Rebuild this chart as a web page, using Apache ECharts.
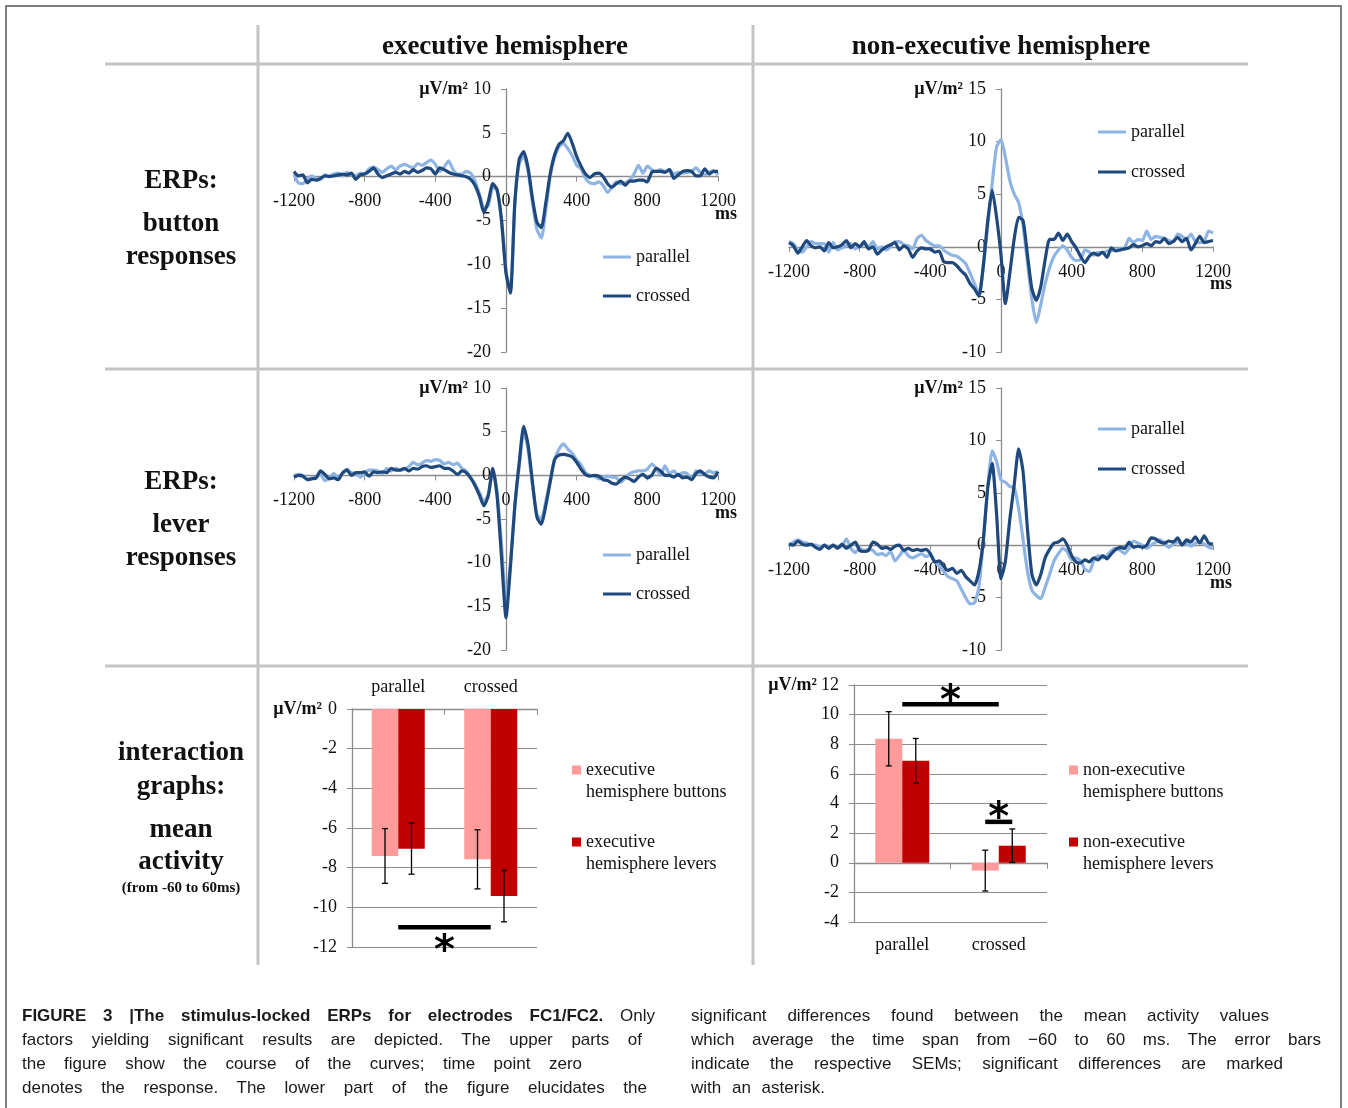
<!DOCTYPE html>
<html>
<head>
<meta charset="utf-8">
<script src="https://cdn.jsdelivr.net/npm/echarts@6/dist/echarts.min.js"></script>
<style>
html,body{margin:0;padding:0;background:#fff;}
#chart{position:absolute;left:0;top:0;width:1348px;height:1108px;}
.cap{position:absolute;font-family:'Liberation Sans',Arial,sans-serif;font-size:17px;color:#1a1a1a;line-height:24px;white-space:nowrap;}
.j{white-space:normal;text-align:justify;text-align-last:justify;}
</style>
</head>
<body>
<div id="chart"></div>
<div class="cap j" style="left:22px;top:1004px;width:633px"><b>FIGURE 3 |The stimulus-locked ERPs for electrodes FC1/FC2.</b> Only</div>
<div class="cap j" style="left:22px;top:1028px;width:620px">factors yielding significant results are depicted. The upper parts of</div>
<div class="cap j" style="left:22px;top:1052px;width:560px">the figure show the course of the curves; time point zero</div>
<div class="cap j" style="left:22px;top:1076px;width:625px">denotes the response. The lower part of the figure elucidates the</div>
<div class="cap j" style="left:691px;top:1004px;width:578px">significant differences found between the mean activity values</div>
<div class="cap j" style="left:691px;top:1028px;width:630px">which average the time span from &minus;60 to 60 ms. The error bars</div>
<div class="cap j" style="left:691px;top:1052px;width:592px">indicate the respective SEMs; significant differences are marked</div>
<div class="cap" style="left:691px;top:1076px;word-spacing:6px">with an asterisk.</div>
<script>
// ---------- DATA ----------
const timeMs = [
-1200,-1175,-1150,-1125,-1100,-1075,-1050,-1025,
-1000,-975,-950,-925,-900,-875,-850,-825,
-800,-775,-750,-725,-700,-675,-650,-625,
-600,-575,-550,-525,-500,-475,-450,-425,
-400,-375,-350,-325,-300,-275,-250,-225,
-200,-175,-150,-125,-100,-75,-50,-25,
0,25,50,75,100,125,150,175,
200,225,250,275,300,325,350,375,
400,425,450,475,500,525,550,575,
600,625,650,675,700,725,750,775,
800,825,850,875,900,925,950,975,
1000,1025,1050,1075,1100,1125,1150,1175,
1200];

const execButtonParallel = [
0.3,-0.7,-0.8,-0.3,0.1,-0.2,-0.3,0.2,
0.1,0.3,0.4,0.1,0.5,0.2,0.1,0.4,
0.3,0.9,1.1,0.8,0.5,0.9,1.2,0.8,
1.2,1.4,1.2,1.0,1.5,1.3,1.6,1.9,
1.4,0.6,1.1,1.8,0.8,0.3,0.3,0.6,
0.4,-0.5,-2.0,-3.6,-3.3,-1.2,-1.6,-5.2,
-10.8,-12.8,-3.0,1.5,2.3,0.6,-3.0,-6.0,
-7.0,-3.8,0.0,2.2,3.4,3.8,3.2,2.4,
1.3,0.9,-0.2,-0.7,-0.8,-0.6,-1.0,-1.8,
-1.2,-0.6,-0.8,-0.7,-0.4,0.3,1.3,0.4,
1.2,0.8,0.6,0.8,0.6,0.8,0.3,0.5,
0.4,0.5,0.6,1.0,0.5,0.2,0.5,0.7,
0.2];
const execButtonCrossed = [
0.6,0.1,0.2,-0.7,-0.3,-0.4,-0.2,0.1,
0.0,0.1,0.2,0.3,0.2,0.4,-0.3,0.2,
0.3,0.6,1.0,0.3,-0.1,0.1,0.3,0.5,
0.3,0.6,0.4,0.8,0.5,0.7,1.0,0.9,
0.3,1.0,0.8,0.5,0.3,0.2,0.1,0.0,
-0.3,-1.0,-2.3,-4.1,-2.8,-0.8,-1.5,-5.0,
-11.0,-13.3,-3.0,2.0,2.85,1.0,-2.5,-5.2,
-5.8,-3.0,0.3,2.5,3.7,4.1,4.95,3.8,
2.3,1.2,0.3,-0.1,0.3,0.4,0.0,-0.8,
-1.2,-0.8,-0.5,-1.0,-0.5,-0.5,-0.4,-0.4,
-0.6,0.5,0.6,0.6,0.5,0.8,-0.2,0.2,
0.6,0.7,0.6,0.1,0.1,0.9,0.3,0.6,
0.6];
const nonExecButtonParallel = [
0.5,0.3,-0.3,-0.5,0.0,0.5,0.3,0.3,
0.3,-0.5,0.4,-0.3,-0.1,0.1,0.3,-0.2,
0.0,0.2,0.0,0.5,-0.2,0.0,-0.3,0.0,
0.5,0.5,0.2,0.1,-0.2,0.8,1.1,0.6,
0.3,0.1,0.1,-0.3,-0.6,-0.8,-0.9,-1.2,
-1.6,-2.5,-3.5,-4.5,-1.8,2.0,6.0,9.5,
10.2,8.5,6.3,5.0,4.2,2.0,-1.5,-5.0,
-7.2,-5.5,-3.5,-2.0,-0.9,-0.3,0.1,-0.3,
-1.0,-1.3,-1.2,-0.3,-0.5,-0.8,-0.5,-0.6,
-0.4,-0.4,-0.3,-0.2,-0.1,0.8,0.4,0.7,
0.6,1.5,0.7,1.0,0.9,0.8,0.6,0.5,
1.2,1.0,0.7,1.2,0.5,0.4,0.5,1.5,
1.3];
const nonExecButtonCrossed = [
0.4,0.1,-0.6,0.0,0.6,0.1,-0.1,0.0,
-0.4,0.4,-0.1,0.0,0.2,0.6,-0.1,0.3,
0.0,0.5,-0.2,0.0,-0.7,-0.3,0.0,0.2,
0.4,-0.3,0.1,-0.2,-1.0,-0.4,-0.1,-0.2,
-0.2,-0.5,-0.4,-1.4,-1.5,-1.5,-1.8,-2.3,
-2.7,-3.5,-4.0,-4.7,-1.8,2.5,5.4,2.8,
-0.8,-5.4,-2.5,0.8,2.8,2.5,-0.8,-4.0,
-5.1,-3.8,-1.2,0.7,0.7,1.3,0.6,1.2,
0.5,-0.1,-0.9,-1.5,-0.9,-0.6,-0.8,-0.5,
-1.0,-0.1,-0.4,-0.3,-0.2,-0.1,0.2,0.0,
0.1,0.3,0.1,0.5,0.4,0.8,0.3,0.5,
0.9,0.5,0.8,-0.3,0.3,1.0,0.4,0.5,
0.6];
const execLeverParallel = [
0.0,0.1,0.0,-0.4,-0.3,-0.2,0.1,-0.6,
-0.3,0.2,-0.2,0.2,0.7,0.3,0.2,-0.2,
0.3,0.6,0.6,0.5,0.2,0.8,0.5,0.8,
0.6,0.7,1.0,1.5,1.2,1.4,1.7,1.6,
1.8,1.7,1.3,1.5,1.2,1.4,0.8,0.5,
-0.3,-1.0,-2.0,-3.0,-2.2,0.7,-2.0,-8.0,
-14.5,-10.0,-3.5,1.0,5.0,3.0,-1.2,-4.5,
-5.0,-3.0,-0.5,1.8,3.0,3.6,3.0,2.5,
1.8,1.2,0.3,0.0,-0.1,-0.4,-0.2,-0.1,
-0.2,-0.3,-0.8,-0.3,0.2,0.4,0.5,0.5,
0.7,1.3,0.8,0.0,1.1,0.2,0.5,0.0,
0.3,0.2,-0.5,0.5,0.2,0.2,0.5,0.3,
0.4];
const execLeverCrossed = [
-0.2,0.0,-0.1,-0.5,-0.4,-0.3,0.5,0.1,
-0.4,-0.3,-0.5,0.3,0.6,0.0,0.3,0.3,
0.4,-0.1,0.4,0.3,0.4,0.3,0.8,0.6,
0.6,0.8,0.5,0.8,0.7,1.0,1.1,0.9,
1.0,1.1,0.8,0.8,0.5,0.1,0.5,0.3,
-0.3,-1.2,-2.3,-3.5,-2.3,0.8,-2.5,-9.5,
-16.3,-10.5,-3.5,1.5,5.6,3.5,-0.8,-4.8,
-5.6,-3.5,-0.8,1.8,2.3,2.4,2.3,2.1,
1.5,0.7,0.1,-0.1,0.0,-0.1,-0.5,-0.6,
-0.9,-1.0,-0.5,-0.2,-0.4,-0.7,-0.2,0.1,
-0.3,0.0,0.8,0.5,0.0,0.0,-0.2,0.1,
-0.3,-0.2,-0.5,0.2,0.5,0.1,-0.2,-0.3,
0.4];
const nonExecLeverParallel = [
0.0,0.3,0.5,0.3,0.2,0.0,0.0,-0.2,
0.0,-0.2,0.0,-0.2,-0.1,0.6,-0.3,-0.7,
-0.3,-0.5,-0.4,-0.5,-0.9,-0.8,-1.0,-0.6,
-1.5,-1.0,-0.5,-1.0,-1.2,-1.0,-0.8,-1.1,
-0.9,-1.5,-2.0,-2.5,-3.0,-3.2,-3.4,-4.2,
-5.0,-5.6,-5.5,-4.0,0.5,5.5,9.0,8.0,
6.2,6.0,5.6,5.5,3.5,0.5,-2.5,-4.3,
-4.8,-5.1,-4.0,-2.8,-1.5,-0.8,-0.3,-0.6,
-1.4,-1.2,-1.5,-2.3,-2.5,-1.5,-1.0,-1.2,
-1.0,-0.5,-0.3,-0.5,-0.8,-0.3,0.4,0.2,
0.0,-0.3,0.0,0.3,0.5,0.2,-0.2,0.1,
0.3,0.1,0.2,-0.1,0.2,0.3,0.1,-0.2,
-0.3];
const nonExecLeverCrossed = [
0.1,0.0,0.4,0.1,0.0,0.1,-0.2,-0.4,
0.0,-0.3,0.0,-0.3,0.1,-0.3,0.0,0.3,
-0.5,-0.6,-0.5,0.3,0.1,-0.3,-0.2,-0.4,
-0.1,0.0,-0.5,-0.3,-0.5,-0.4,-0.5,-0.4,
-0.8,-1.6,-1.5,-2.0,-2.4,-2.2,-2.7,-2.4,
-3.0,-3.4,-3.8,-2.5,0.5,5.5,7.8,3.0,
-3.2,-1.5,2.5,5.8,9.2,7.0,1.5,-2.8,
-3.8,-2.8,-1.2,-0.4,0.2,0.3,0.6,0.0,
-1.0,-1.6,-1.7,-1.4,-1.6,-1.2,-1.4,-1.0,
-1.3,-0.8,-0.4,-0.2,-0.3,0.3,-0.2,-0.1,
-0.2,0.0,0.7,0.6,0.3,0.2,0.4,0.3,
0.7,0.0,0.5,0.3,0.8,0.2,0.9,0.2,
0.1];

const barCategories = ['parallel', 'crossed'];
const execButtonsMean = [-7.41, -7.58];
const execButtonsSEM = [1.38, 1.49];
const execLeversMean = [-7.04, -9.43];
const execLeversSEM = [1.29, 1.30];
const nonExecButtonsMean = [8.37, -0.53];
const nonExecButtonsSEM = [1.83, 1.38];
const nonExecLeversMean = [6.88, 1.15];
const nonExecLeversSEM = [1.51, 1.13];
// significance markers: [from (category units), to (category units), y]
const execSigLines = [[0, 1, -11]];
const execSigStars = [[0.5, -11.75]];
const nonExecSigLines = [[0, 1, 10.7], [0.86, 1.14, 2.76]];
const nonExecSigStars = [[0.5, 11.55], [1.0, 3.64]];

// ---------- STYLE ----------
const serif = "'Liberation Serif','Times New Roman',serif";
const axisGray = '#8c8c8c';
const textCol = '#111';
const lightBlue = '#8db4e2', darkBlue = '#1f497d';
const pink = '#ff9b9b', red = '#c00000';

const chart = echarts.init(document.getElementById('chart'), null, {renderer: 'canvas'});

const erpPanels = [
  {grid: {left: 294, top: 89, width: 424, height: 263}, yMin: -20, yMax: 10, par: execButtonParallel, cro: execButtonCrossed, legend: {left: 603, top: 247, gap: 19}},
  {grid: {left: 789, top: 89, width: 424, height: 263}, yMin: -10, yMax: 15, par: nonExecButtonParallel, cro: nonExecButtonCrossed, legend: {left: 1098, top: 122, gap: 20}},
  {grid: {left: 294, top: 388, width: 424, height: 262}, yMin: -20, yMax: 10, par: execLeverParallel, cro: execLeverCrossed, legend: {left: 603, top: 545, gap: 19}},
  {grid: {left: 789, top: 388, width: 424, height: 262}, yMin: -10, yMax: 15, par: nonExecLeverParallel, cro: nonExecLeverCrossed, legend: {left: 1098, top: 419, gap: 20}}
];
const xMin = -1200, xMax = 1200;

const grids = [], xAxes = [], yAxes = [], series = [], legends = [];
const labelStyle = {fontFamily: serif, fontSize: 18, color: textCol};

erpPanels.forEach((p, i) => {
  grids.push(Object.assign({containLabel: false, outerBoundsMode: 'none'}, p.grid));
  // place axes through the origin (Excel style) using offsets derived from the axis ranges
  const xOff = -p.grid.height * (0 - p.yMin) / (p.yMax - p.yMin);
  const yOff = -p.grid.width * (0 - xMin) / (xMax - xMin);
  xAxes.push({
    gridIndex: i, type: 'value', min: xMin, max: xMax, interval: 400, position: 'bottom', offset: xOff,
    axisLine: {show: true, onZero: false, lineStyle: {color: axisGray, width: 1.3}},
    axisTick: {show: true, length: 5, lineStyle: {color: axisGray}},
    axisLabel: Object.assign({margin: 16, formatter: v => String(v)}, labelStyle),
    splitLine: {show: false},
    name: 'ms', nameLocation: 'end', nameGap: 19, nameMoveOverlap: false,
    nameTextStyle: {fontFamily: serif, fontSize: 18, fontWeight: 'bold', color: textCol, align: 'right', verticalAlign: 'top', padding: [29, 0, 0, 0]}
  });
  yAxes.push({
    gridIndex: i, type: 'value', min: p.yMin, max: p.yMax, interval: 5, position: 'left', offset: yOff,
    axisLine: {show: true, onZero: false, lineStyle: {color: axisGray, width: 1.3}},
    axisTick: {show: true, length: 5, lineStyle: {color: axisGray}},
    axisLabel: Object.assign({margin: 15}, labelStyle),
    splitLine: {show: false},
    name: 'µV/m²', nameLocation: 'end', nameGap: 0, nameMoveOverlap: false,
    nameTextStyle: {fontFamily: serif, fontSize: 18, fontWeight: 'bold', color: textCol, align: 'right', verticalAlign: 'middle', padding: [0, 38, 0, 0]}
  });
  series.push({
    type: 'line', name: 'parallel', xAxisIndex: i, yAxisIndex: i,
    data: timeMs.map((t, k) => [t, p.par[k]]),
    symbol: 'none', showSymbol: false, smooth: 0.2,
    lineStyle: {width: 3.2, color: lightBlue}, itemStyle: {color: lightBlue}, z: 2
  });
  series.push({
    type: 'line', name: 'crossed', xAxisIndex: i, yAxisIndex: i,
    data: timeMs.map((t, k) => [t, p.cro[k]]),
    symbol: 'none', showSymbol: false, smooth: 0.2,
    lineStyle: {width: 3.2, color: darkBlue}, itemStyle: {color: darkBlue}, z: 3
  });
  legends.push({
    orient: 'vertical', left: p.legend.left, top: p.legend.top, padding: 0,
    icon: 'rect', itemWidth: 28, itemHeight: 3, itemGap: p.legend.gap, selectedMode: false,
    data: ['parallel', 'crossed'],
    textStyle: {fontFamily: serif, fontSize: 18, color: textCol, lineHeight: 20}
  });
});

// ---------- BAR PANELS ----------
const barPanels = [
  {grid: {left: 352, top: 709, width: 185, height: 238}, yMin: -12, yMax: 0, xPos: 'top', labelMargin: 13, tickInside: true, namePad: 30,
   names: ['executive hemisphere buttons', 'executive hemisphere levers'], means: [execButtonsMean, execLeversMean], sems: [execButtonsSEM, execLeversSEM],
   sigLines: execSigLines, sigStars: execSigStars, barWidth: 26.5, legendLeft: 572},
  {grid: {left: 854, top: 685, width: 193, height: 237}, yMin: -4, yMax: 12, xPos: 'bottom', labelMargin: 74, tickInside: false, namePad: 37,
   names: ['non-executive hemisphere buttons', 'non-executive hemisphere levers'], means: [nonExecButtonsMean, nonExecLeversMean], sems: [nonExecButtonsSEM, nonExecLeversSEM],
   sigLines: nonExecSigLines, sigStars: nonExecSigStars, barWidth: 27, legendLeft: 1069}
];

barPanels.forEach((p, j) => {
  const gi = 4 + j;
  grids.push(Object.assign({containLabel: false, outerBoundsMode: 'none'}, p.grid));
  const xOff = p.xPos === 'bottom'
    ? -p.grid.height * (0 - p.yMin) / (p.yMax - p.yMin)
    : -p.grid.height * (p.yMax - 0) / (p.yMax - p.yMin);
  xAxes.push({
    gridIndex: gi, type: 'category', data: barCategories, position: p.xPos, offset: xOff,
    axisLine: {show: true, onZero: false, lineStyle: {color: axisGray, width: 1.3}},
    axisTick: {show: true, inside: p.tickInside, length: 6, alignWithLabel: false, lineStyle: {color: axisGray}},
    axisLabel: Object.assign({margin: p.labelMargin, interval: 0}, labelStyle),
    splitLine: {show: false}
  });
  yAxes.push({
    gridIndex: gi, type: 'value', min: p.yMin, max: p.yMax, interval: 2,
    axisLine: {show: true, onZero: false, lineStyle: {color: axisGray, width: 1.3}},
    axisTick: {show: true, length: 5, lineStyle: {color: axisGray}},
    axisLabel: Object.assign({margin: 15}, labelStyle),
    splitLine: {show: true, lineStyle: {color: axisGray, width: 1.2}},
    name: 'µV/m²', nameLocation: 'end', nameGap: 0, nameMoveOverlap: false,
    nameTextStyle: {fontFamily: serif, fontSize: 18, fontWeight: 'bold', color: textCol, align: 'right', verticalAlign: 'middle', padding: [0, p.namePad, 0, 0]}
  });
  const colors = [pink, red];
  const offsets = [-p.barWidth / 2, p.barWidth / 2];
  [0, 1].forEach(s => {
    series.push({
      type: 'bar', name: p.names[s], xAxisIndex: gi, yAxisIndex: gi,
      data: p.means[s], barWidth: p.barWidth, barGap: '0%',
      itemStyle: {color: colors[s]}, z: 2
    });
  });
  [0, 1].forEach(s => {
    const off = offsets[s];
    series.push({
      type: 'custom', xAxisIndex: gi, yAxisIndex: gi, z: 5,
      data: p.means[s].map((m, k) => [k, m, p.sems[s][k]]),
      encode: {x: 0, y: 1},
      renderItem: (params, api) => {
        const k = api.value(0), m = api.value(1), e = api.value(2);
        const hi = api.coord([k, m + e]), lo = api.coord([k, m - e]);
        const x = hi[0] + off;
        const st = {stroke: '#000', lineWidth: 1.3};
        return {type: 'group', children: [
          {type: 'line', shape: {x1: x, y1: hi[1], x2: x, y2: lo[1]}, style: st},
          {type: 'line', shape: {x1: x - 3, y1: hi[1], x2: x + 3, y2: hi[1]}, style: st},
          {type: 'line', shape: {x1: x - 3, y1: lo[1], x2: x + 3, y2: lo[1]}, style: st}
        ]};
      }
    });
  });
  series.push({
    type: 'custom', xAxisIndex: gi, yAxisIndex: gi, z: 6,
    data: p.sigLines, encode: {x: 0, y: 2},
    renderItem: (params, api) => {
      const y = api.value(2);
      const c0 = api.coord([0, y]);
      const band = api.size([1, 0])[0];
      return {type: 'line', shape: {x1: c0[0] + api.value(0) * band, y1: c0[1], x2: c0[0] + api.value(1) * band, y2: c0[1]},
        style: {stroke: '#000', lineWidth: 4.5}};
    }
  });
  series.push({
    type: 'custom', xAxisIndex: gi, yAxisIndex: gi, z: 6,
    data: p.sigStars, encode: {x: 0, y: 1},
    renderItem: (params, api) => {
      const c0 = api.coord([0, api.value(1)]);
      const band = api.size([1, 0])[0];
      return {type: 'text', x: c0[0] + api.value(0) * band, y: c0[1] + 11,
        style: {text: '*', font: "bold 40px 'DejaVu Sans'", fill: '#000', align: 'center', verticalAlign: 'middle'}};
    }
  });
  legends.push({
    orient: 'vertical', left: p.legendLeft, top: 737, padding: 0,
    itemWidth: 9, itemHeight: 9, itemGap: 6, icon: 'rect', selectedMode: false,
    data: p.names,
    formatter: n => '\n' + n.replace(' hemisphere', '\nhemisphere'),
    textStyle: {fontFamily: serif, fontSize: 18, color: textCol, lineHeight: 22}
  });
});

// ---------- TABLE / LABELS ----------
const tableGray = '#c4c4c4';
const headFont = `bold 27px ${serif}`;
function txt(x, y, text, font) {
  return {type: 'text', x: x, y: y, silent: true,
    style: {text: text, font: font || headFont, fill: textCol, align: 'center', verticalAlign: 'middle'}};
}
function hline(y) { return {type: 'line', silent: true, shape: {x1: 105, y1: y, x2: 1248, y2: y}, style: {stroke: tableGray, lineWidth: 3}}; }
function vline(x) { return {type: 'line', silent: true, shape: {x1: x, y1: 25, x2: x, y2: 965}, style: {stroke: tableGray, lineWidth: 3}}; }

const graphic = [
  {type: 'rect', silent: true, shape: {x: 6, y: 6, width: 1335, height: 1130}, style: {fill: 'none', stroke: '#555', lineWidth: 1.5}},
  hline(64), hline(369), hline(666), vline(258), vline(753),
  txt(505, 47, 'executive hemisphere'),
  txt(1001, 47, 'non-executive hemisphere'),
  txt(181, 181, 'ERPs:'), txt(181, 224, 'button'), txt(181, 257, 'responses'),
  txt(181, 482, 'ERPs:'), txt(181, 525, 'lever'), txt(181, 558, 'responses'),
  txt(181, 753, 'interaction'), txt(181, 787, 'graphs:'), txt(181, 830, 'mean'), txt(181, 862, 'activity'),
  txt(181, 888, '(from -60 to 60ms)', `bold 15px ${serif}`)
];

chart.setOption({
  animation: false,
  backgroundColor: '#fff',
  grid: grids, xAxis: xAxes, yAxis: yAxes, series: series, legend: legends, graphic: graphic
});
</script>
</body>
</html>
